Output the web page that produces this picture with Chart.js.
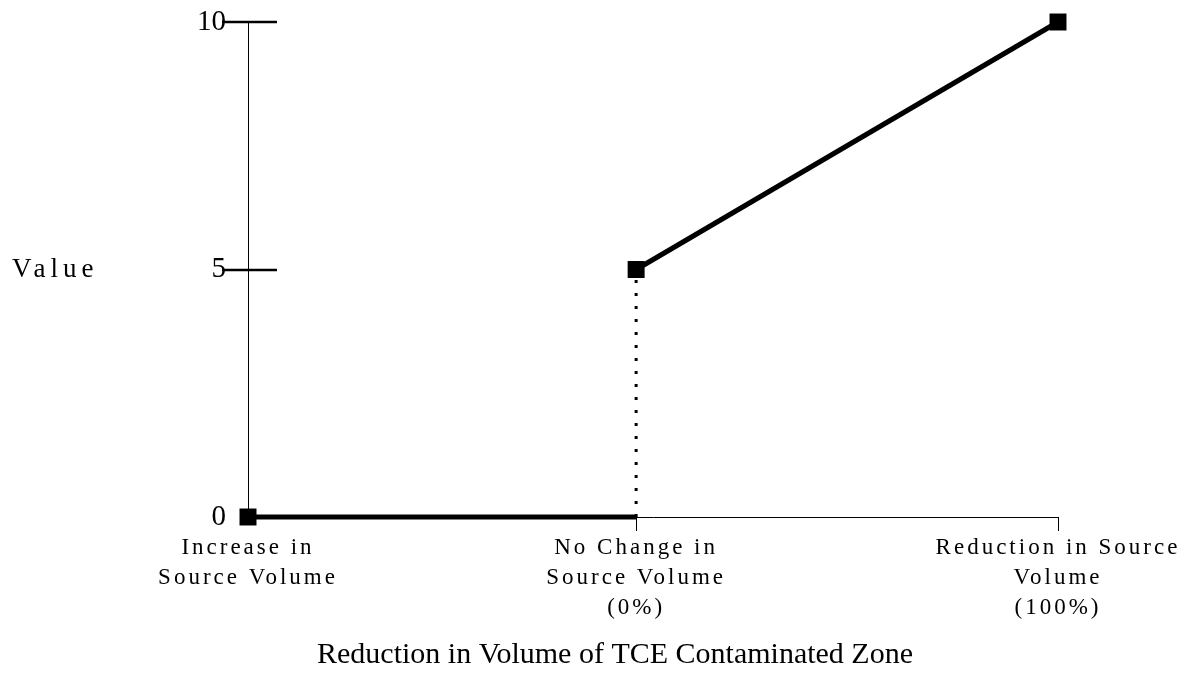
<!DOCTYPE html>
<html>
<head>
<meta charset="utf-8">
<title>Value of reduction in TCE contaminated zone</title>
<script src="https://cdn.jsdelivr.net/npm/chart.js@4.4.1/dist/chart.umd.min.js"></script>
<style>
  html, body { margin: 0; background: #fff; }
  #wrap { width: 1202px; height: 677px; }
</style>
</head>
<body>
<div id="wrap"><canvas id="valueChart" width="1202" height="677"></canvas></div>
<script>
const categoryLabels = [
  ['Increase in', 'Source Volume'],
  ['No Change in', 'Source Volume', '(0%)'],
  ['Reduction in Source', 'Volume', '(100%)']
];
// fraction of source volume removed at each category (an increase is negative)
const categoryX = [-0.92, 0, 1];
const increaseValues = [0, 0];    // at categoryX[0] and categoryX[1]
const jumpValues = [0, 5];        // vertical step at categoryX[1]
const reductionValues = [5, 10];  // at categoryX[1] and categoryX[2]
const yTicks = [0, 5, 10];

const SERIF = "'Liberation Serif', 'Times New Roman', serif";

const pts = (xs, ys) => ys.map((y, i) => ({ x: xs[i], y }));

// crossing tick marks on the y axis, the horizontal "Value" label and the x title
const axisDecor = {
  id: 'axisDecor',
  afterDatasetsDraw(chart) {
    // x tick labels are drawn after the datasets (ticks.z = 1), with wide tracking
    chart.ctx.letterSpacing = '3px';
  },
  afterDraw(chart) {
    const { ctx, scales: { x, y } } = chart;
    ctx.save();
    ctx.letterSpacing = '0px';
    ctx.strokeStyle = '#000';
    ctx.lineWidth = 2.5;
    yTicks.slice(1).forEach(v => {
      const py = Math.round(y.getPixelForValue(v));
      ctx.beginPath();
      ctx.moveTo(x.left - 26, py);
      ctx.lineTo(x.left + 29, py);
      ctx.stroke();
    });

    ctx.fillStyle = '#000';
    ctx.textBaseline = 'middle';
    ctx.font = '27px ' + SERIF;
    ctx.letterSpacing = '5px';
    ctx.textAlign = 'left';
    ctx.fillText('Value', 12, 270);

    ctx.letterSpacing = '0px';
    ctx.font = '30px ' + SERIF;
    ctx.textAlign = 'center';
    ctx.fillText('Reduction in Volume of TCE Contaminated Zone', 615, 655);
    ctx.restore();
    ctx.letterSpacing = '0px';
  }
};

const lineStyle = {
  borderColor: '#000',
  backgroundColor: '#000',
  pointStyle: 'rect',
  pointBackgroundColor: '#000',
  pointBorderWidth: 0,
  fill: false,
  tension: 0,
  clip: false
};

new Chart(document.getElementById('valueChart'), {
  type: 'line',
  data: {
    datasets: [
      {
        ...lineStyle,
        label: 'Increase',
        data: pts(categoryX.slice(0, 2), increaseValues),
        borderWidth: 5,
        pointRadius: [12, 0]
      },
      {
        ...lineStyle,
        label: 'Step',
        data: pts([categoryX[1], categoryX[1]], jumpValues),
        borderWidth: 3,
        borderDash: [3, 10],
        pointRadius: 0
      },
      {
        ...lineStyle,
        label: 'Reduction',
        data: pts(categoryX.slice(1), reductionValues),
        borderWidth: 5,
        pointRadius: 12
      }
    ]
  },
  options: {
    responsive: false,
    animation: false,
    devicePixelRatio: 1,
    layout: { padding: { top: 22, right: 144, bottom: 0, left: 0 } },
    plugins: {
      legend: { display: false },
      tooltip: { enabled: false }
    },
    scales: {
      x: {
        type: 'linear',
        min: categoryX[0],
        max: categoryX[categoryX.length - 1],
        afterBuildTicks: s => { s.ticks = categoryX.map(v => ({ value: v })); },
        afterFit: s => { s.height = 160; },
        ticks: {
          z: 1,
          autoSkip: false,
          maxRotation: 0,
          padding: 2,
          color: '#000',
          font: { family: SERIF, size: 23, lineHeight: 1.3 },
          callback: (v, i) => categoryLabels[i]
        },
        grid: {
          drawOnChartArea: false,
          drawTicks: true,
          tickLength: 14,
          lineWidth: 1,
          color: c => (c.index === 0 ? 'rgba(0,0,0,0)' : '#000')
        },
        border: { display: true, color: '#000', width: 1 }
      },
      y: {
        min: 0,
        max: 10,
        afterBuildTicks: s => { s.ticks = yTicks.map(v => ({ value: v })); },
        afterFit: s => { s.width = 248; s.paddingTop = 0; },
        ticks: {
          padding: 22,
          color: '#000',
          font: { family: SERIF, size: 29 }
        },
        grid: { drawOnChartArea: false, drawTicks: false },
        border: { display: true, color: '#000', width: 1 }
      }
    }
  },
  plugins: [axisDecor]
});
</script>
</body>
</html>
